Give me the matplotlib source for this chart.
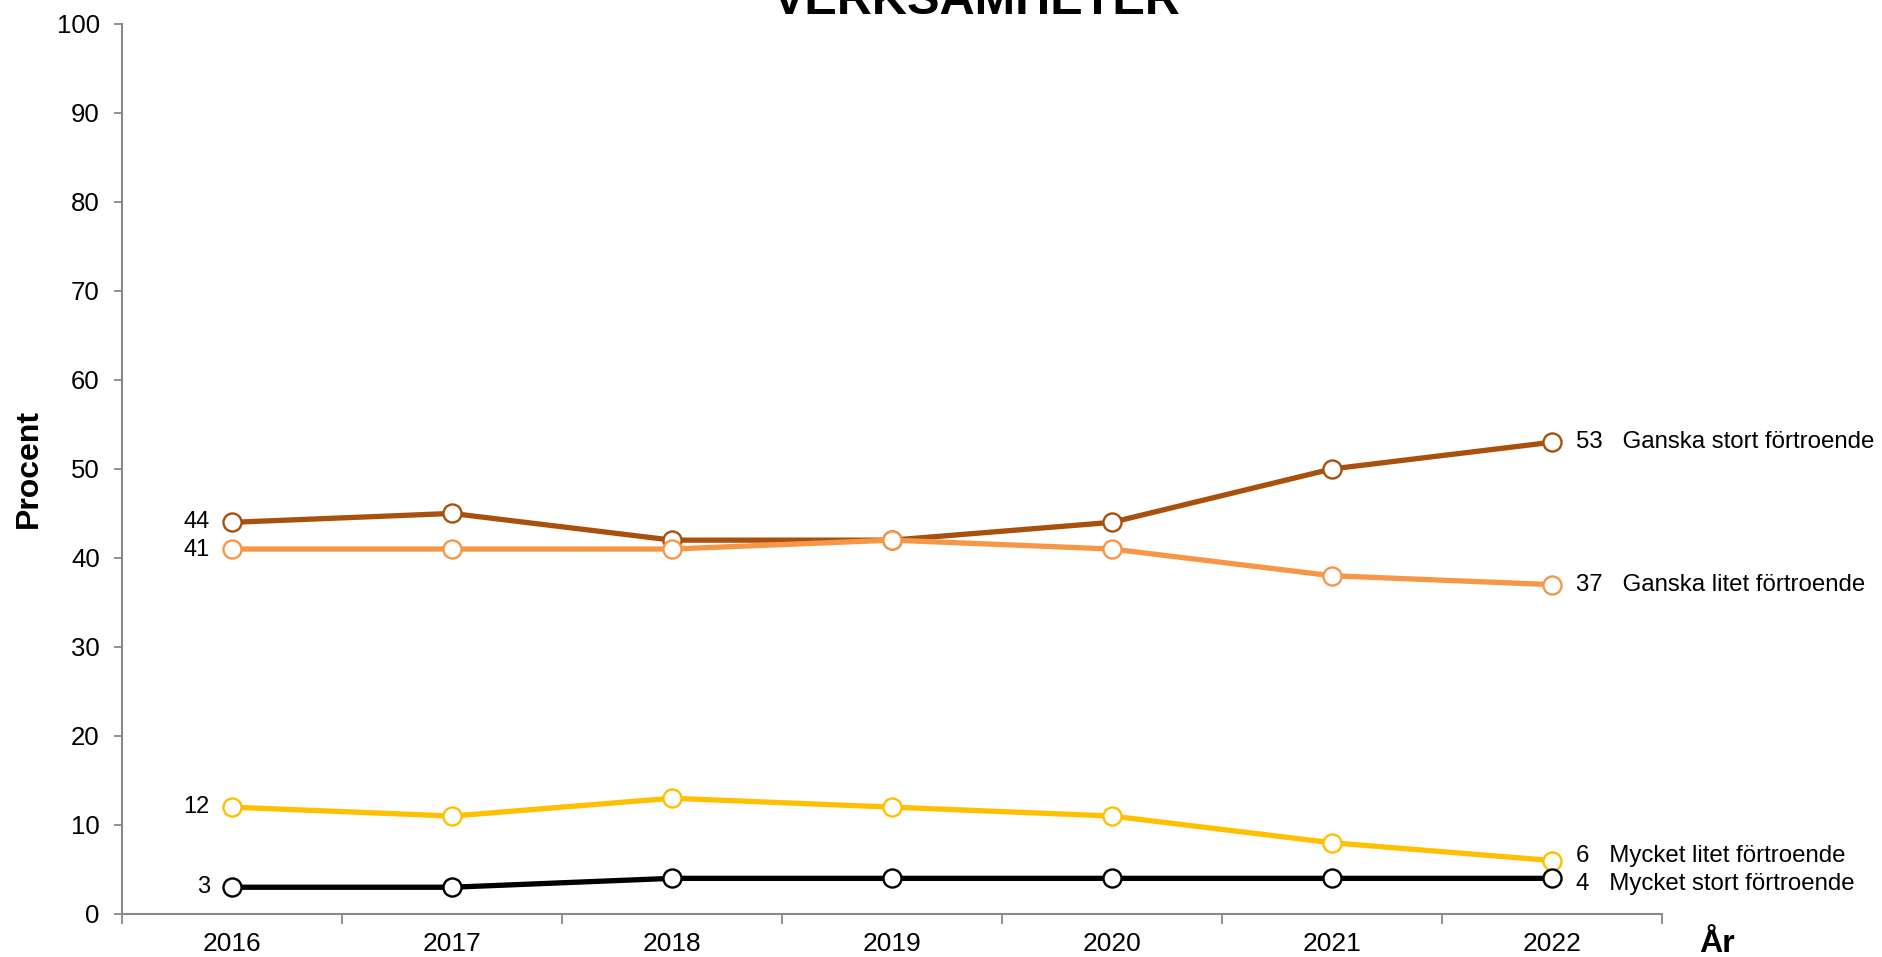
import matplotlib.pyplot as plt
import numpy as np

plt.rcParams['font.family'] = ['Liberation Sans', 'DejaVu Sans']

years = ['2016', '2017', '2018', '2019', '2020', '2021', '2022']
ganska_stort = [44, 45, 42, 42, 44, 50, 53]
ganska_litet = [41, 41, 41, 42, 41, 38, 37]
mycket_litet = [12, 11, 13, 12, 11, 8, 6]
mycket_stort = [3, 3, 4, 4, 4, 4, 4]

names = ['Ganska stort förtroende', 'Ganska litet förtroende',
         'Mycket litet förtroende', 'Mycket stort förtroende']
colors = ['#A8500C', '#F79646', '#FFC000', '#000000']
series = [ganska_stort, ganska_litet, mycket_litet, mycket_stort]
# small vertical nudges (points) for the end labels so they don't collide
right_nudge = [0, 0, 3, -4]
left_nudge = [0, -1, 0, 0]

fig = plt.figure(figsize=(18.83, 9.57), dpi=100)
ax = fig.add_axes([0.0648, 0.045, 0.8178, 0.930])

x = np.arange(len(years))
for vals, col, name, rn, ln in zip(series, colors, names, right_nudge, left_nudge):
    ax.plot(x, vals, color=col, lw=3.8, marker='o', ms=13,
            mfc='white', mec=col, mew=1.7, zorder=3)
    ax.annotate(str(vals[0]), (x[0], vals[0]), xytext=(-16, ln),
                textcoords='offset points', ha='right', va='center',
                fontsize=17)
    ax.annotate(f"{vals[-1]}   {name}", (x[-1], vals[-1]), xytext=(17, rn),
                textcoords='offset points', ha='left', va='center',
                fontsize=17.3, annotation_clip=False)

ax.set_xlim(-0.5, len(years) - 0.5)
ax.set_ylim(0, 100)
ax.set_yticks(range(0, 101, 10))
ax.set_xticks(x)
ax.set_xticklabels(years)
ax.set_xticks(np.arange(-0.5, len(years), 1), minor=True)
ax.tick_params(axis='x', which='major', length=0, pad=13, labelsize=19)
ax.tick_params(axis='x', which='minor', length=7, width=1.3, color='#898989',
               direction='out')
ax.tick_params(axis='y', length=6, width=1.3, color='#898989', pad=10,
               labelsize=18.5)

for s in ['top', 'right']:
    ax.spines[s].set_visible(False)
for s in ['left', 'bottom']:
    ax.spines[s].set_color('#898989')
    ax.spines[s].set_linewidth(1.5)

fig.text(977 / 1883, 1 - 14 / 957, 'VERKSAMHETER', ha='center',
         va='baseline', fontsize=35, fontweight='bold')
fig.text(29 / 1883, 1 - 468 / 957, 'Procent', rotation=90, ha='center',
         va='center', fontsize=23, fontweight='bold')
fig.text(1717 / 1883, 1 - 944 / 957, 'År', ha='center', va='center',
         fontsize=23, fontweight='bold')

fig.savefig('out.png', dpi=100)
